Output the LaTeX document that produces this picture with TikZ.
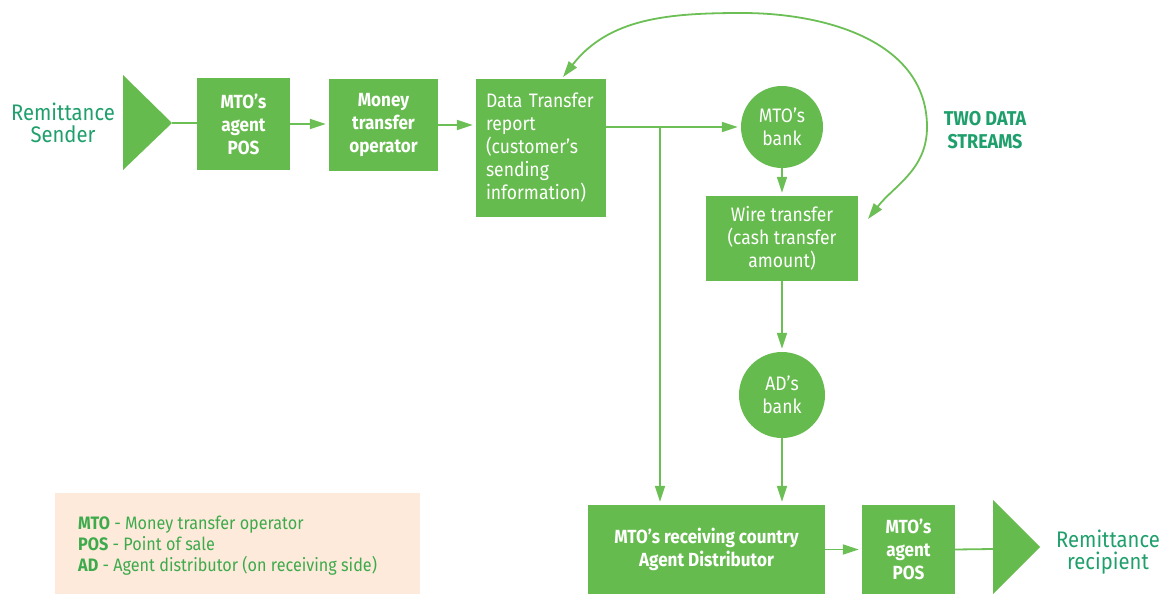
\documentclass[tikz,border=0pt]{standalone}
\usepackage{fontspec}
\setmainfont{Fira Sans}[FakeStretch=0.9]
\usetikzlibrary{arrows.meta,calc}
\definecolor{boxgreen}{HTML}{66BB4E}
\definecolor{linegreen}{HTML}{6CBF55}
\definecolor{tealtext}{HTML}{1F9F6B}
\definecolor{legendfill}{HTML}{FDEADB}
\definecolor{legendtext}{HTML}{3DAA4C}
\begin{document}
\begin{tikzpicture}[x=1pt,y=1pt,
  box/.style={rectangle, fill=boxgreen, draw=none, text=white, inner sep=0pt, align=center,
              font=\fontsize{19.5}{23}\selectfont},
  boldbox/.style={box, font=\fontsize{19}{23}\selectfont\bfseries},
  bank/.style={circle, fill=boxgreen, draw=none, text=white, inner sep=0pt, align=center,
              font=\fontsize{19.5}{23}\selectfont},
  conn/.style={draw=linegreen, line width=1.8pt},
  arr/.style={conn, -{Triangle[length=16pt,width=10pt]}, shorten >=3pt},
  endtext/.style={text=tealtext, align=center, font=\fontsize{22.5}{22}\selectfont},
  tri/.style={fill=boxgreen, draw=none}
]
\useasboundingbox (0,0) rectangle (1175,-594);

% legend
\node[rectangle, fill=legendfill, draw=none, minimum width=365pt, minimum height=101pt, anchor=north west, inner sep=0pt] (legend) at (55,-493) {};
\node[anchor=west, align=left, text=legendtext, font=\fontsize{18}{21}\selectfont, inner sep=0pt] (legendtxt) at (78,-546)
  {\textbf{MTO} - Money transfer operator\\ \textbf{POS} - Point of sale\\ \textbf{AD} - Agent distributor (on receiving side)};

% sender side
\node[endtext] (sender) at (63,-123) {Remittance\\Sender};
\fill[tri] (123,-75) -- (172,-123) -- (123,-170) -- cycle;
\coordinate (tri1tip) at (172,-123);

\node[boldbox, minimum width=93pt, minimum height=92pt] (pos1) at (243.5,-124) {MTO’s\\agent\\POS};
\node[boldbox, minimum width=109pt, minimum height=92pt] (mto) at (383.5,-125) {Money\\transfer\\operator};
\node[box, minimum width=130pt, minimum height=138pt, align=left, text width=110pt] (data) at (541,-148)
  {Data Transfer\\report\\(customer’s\\sending\\information)};

\node[bank, minimum size=82pt] (bank1) at (782,-127) {MTO’s\\bank};
\node[box, minimum width=152pt, minimum height=85pt] (wire) at (782,-238.5) {Wire transfer\\(cash transfer\\amount)};
\node[bank, minimum size=86pt] (bank2) at (782,-395) {AD’s\\bank};

\node[boldbox, minimum width=237pt, minimum height=89pt] (agent) at (706.5,-549.5) {MTO’s receiving country\\Agent Distributor};
\node[boldbox, minimum width=93pt, minimum height=89pt] (pos2) at (908.5,-549.5) {MTO’s\\agent\\POS};

\fill[tri] (993,-500) -- (1040,-547) -- (993,-594) -- cycle;
\coordinate (tri2base) at (993,-549);
\node[endtext] (recipient) at (1108,-552) {Remittance\\recipient};

\node[text=tealtext, align=center, font=\fontsize{20}{23}\selectfont\bfseries] (streams) at (985,-130) {TWO DATA\\STREAMS};

% connectors
\draw[conn] (tri1tip) -- (tri1tip -| pos1.west);
\draw[arr] (pos1.east) -- (pos1.east -| mto.west);
\draw[arr] (mto.east) -- (mto.east -| data.west);
\coordinate (split) at (660,-126);
\draw[arr] (bank1.west -| data.east) -- (bank1.west);
\draw[arr] (split) -- (split |- agent.north);
\draw[arr] (bank1.south) -- (wire.north);
\draw[arr] (wire.south) -- (bank2.north);
\draw[arr] (bank2.south) -- (bank2.south |- agent.north);
\draw[arr] (agent.east) -- (pos2.west);
\draw[conn] (pos2.east) -- (tri2base);

% two data streams arc
\coordinate (arcA) at (563,-77);
\coordinate (arcTop) at (742,-13);
\coordinate (arcRight) at (927,-127);
\coordinate (arcB) at (868,-219);
\draw[conn, {Triangle[length=16pt,width=10pt]}-{Triangle[length=16pt,width=10pt]}]
  (arcA) to[out=52,in=180] (arcTop) to[out=0,in=90] (arcRight) to[out=-90,in=52] (arcB);
\end{tikzpicture}
\end{document}
